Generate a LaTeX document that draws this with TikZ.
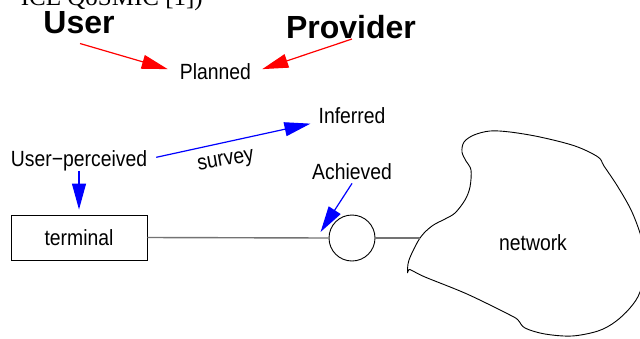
\documentclass[tikz,border=0pt]{standalone}
\usepackage{fontspec}
\setmainfont{Liberation Sans}
\newfontfamily\narfont[FakeStretch=0.88]{Liberation Sans}
\newfontfamily\capfont{Liberation Serif}
\usetikzlibrary{arrows.meta}
\begin{document}
\begin{tikzpicture}[x=1pt,y=-1pt,
  lbl/.style={font=\narfont\fontsize{22}{24}\selectfont, inner sep=0pt},
  bigl/.style={font=\bfseries\fontsize{32}{34}\selectfont, inner sep=0pt},
  tipk/.style={-{Triangle[length=26pt,width=14pt]}},
  redarr/.style={draw=red, line width=1.2pt, tipk},
  bluearr/.style={draw=blue, line width=1.2pt, tipk},
  wire/.style={draw=black!55, line width=1.4pt},
  box/.style={draw, line width=0.9pt, minimum width=136pt, minimum height=45pt, inner sep=0pt},
  ring/.style={draw, circle, line width=0.9pt, minimum size=46pt, inner sep=0pt}]
\useasboundingbox (0,0) rectangle (640,338);
\clip (0,0) rectangle (640,338);
% clipped caption line at the top
\node[font=\capfont\fontsize{25}{27}\selectfont, anchor=base east, inner sep=0pt] (cap) at (203,5) {ICE QoSMIC [1])};
% labels
\node[bigl, anchor=base] (user) at (79,33) {User};
\node[bigl, anchor=base] (provider) at (351,38.5) {Provider};
\node[lbl, anchor=base] (planned) at (215.5,79) {Planned};
\node[lbl, anchor=base] (inferred) at (352,123) {Inferred};
\node[lbl, anchor=base] (upc) at (79,166) {User\textminus perceived};
\node[lbl, rotate=10] (survey) at (226,162) {survey};
\node[lbl, anchor=base] (achieved) at (352,179) {Achieved};
\node[box, font=\narfont\fontsize{22}{24}\selectfont] (terminal) at (79,237.5) {terminal};
\node[ring] (circ) at (352,238) {};
\coordinate (netin) at (420,238);
% network cloud
\draw[line width=0.9pt] plot[smooth, tension=0.55] coordinates {
 (407.5,273) (409,260) (420,238) (432,226) (445,219) (455,213) (465,200)
 (470,187) (471,170) (466,161) (462,152) (464,142) (474,135) (490,131)
 (510,132) (540,137) (575,146) (598,157) (604,166) (618,187) (632,212)
 (642,240) (645,265) (640,292) (630,308) (615,322) (598,331) (572,336)
 (545,334) (525,328) (518,320) (510,315) (467,294) (425,277) (413,271)
 (409,269.5) (407.5,273)};
\node[lbl] (network) at (533,243) {network};
% wires
\draw[wire] (terminal.east) -- (circ.west);
\draw[wire] (circ.east) -- (netin);
% arrows
\draw[redarr] ([shift={(1,10)}]user.south) -- ([shift={(-12,-2)}]planned.west);
\draw[redarr] ([shift={(1,0)}]provider.south) -- ([shift={(11,-2)}]planned.east);
\draw[bluearr] ([shift={(0,0)}]upc.south) -- ([shift={(0,-5)}]terminal.north);
\draw[bluearr] ([shift={(9,-3)}]upc.east) -- ([shift={(-8,8.5)}]inferred.west);
\draw[bluearr] ([shift={(0,4)}]achieved.south) -- ([shift={(-8,-6)}]circ.west);
\end{tikzpicture}
\end{document}
